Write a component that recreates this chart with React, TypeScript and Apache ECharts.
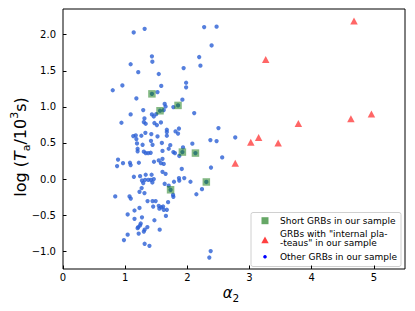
import React, { useEffect, useRef } from 'react';
import * as echarts from 'echarts';

// "Other GRBs in our sample"
const otherAlpha2 = [
  1.137, 1.313, 2.27, 2.47, 2.39, 1.43, 1.437, 2.19, 2.21, 1.088, 1.21, 1.54, 1.94, 1.98, 1.98, 0.8, 0.955,
  1.58, 1.52, 1.18, 1.92, 1.635, 1.65, 1.775, 2.11, 1.62, 1.29, 1.088, 1.43, 1.46, 1.5, 1.31, 0.94, 1.3, 1.33,
  1.47, 1.51, 1.575, 2.5, 1.67, 1.67, 1.865, 1.81, 1.85, 1.325, 1.42, 1.13, 1.17, 1.26, 1.52, 1.67, 1.18, 2.77,
  2.37, 2.47, 1.415, 1.44, 1.59, 1.19, 1.28, 1.725, 2.08, 1.93, 1.2, 1.7, 1.2, 1.3, 1.33, 1.37, 1.41, 1.6,
  1.775, 1.8, 1.87, 2.56, 0.885, 0.87, 0.965, 1.077, 1.088, 1.22, 1.463, 1.54, 1.575, 1.62, 1.6, 2.38, 1.6,
  1.65, 1.14, 1.24, 1.33, 1.425, 1.27, 1.32, 1.29, 1.373, 1.415, 1.46, 1.437, 1.635, 1.785, 1.865, 1.87, 1.95,
  2.05, 2.235, 2.145, 1.7, 1.23, 1.31, 1.265, 0.84, 1.07, 1.09, 1.77, 1.775, 1.36, 1.44, 1.49, 1.69, 1.45, 1.54,
  1.55, 1.58, 1.61, 1.62, 1.67, 1.23, 1.15, 1.04, 1.655, 1.27, 1.15, 1.47, 1.25, 1.24, 1.21, 1.2, 1.357, 1.313,
  1.3, 1.555, 1.217, 1.04, 0.98, 1.313, 1.39, 2.375, 2.353, 1.91
];
const otherLogTa = [
  2.03, 2.08, 2.105, 2.11, 1.85, 1.7, 1.625, 1.69, 1.57, 1.59, 1.48, 1.455, 1.537, 1.334, 1.27, 1.23, 1.296,
  1.29, 1.205, 1.116, 1.1, 1.04, 1.005, 0.997, 0.914, 0.955, 0.955, 0.895, 0.895, 0.867, 0.9, 0.84, 0.78, 0.79,
  0.766, 0.776, 0.748, 0.784, 0.706, 0.683, 0.651, 0.7, 0.66, 0.63, 0.64, 0.623, 0.595, 0.604, 0.6, 0.59, 0.6,
  0.554, 0.576, 0.54, 0.526, 0.53, 0.475, 0.5, 0.493, 0.475, 0.47, 0.49, 0.438, 0.42, 0.42, 0.385, 0.38, 0.36,
  0.36, 0.364, 0.39, 0.374, 0.36, 0.32, 0.3, 0.27, 0.18, 0.22, 0.226, 0.194, 0.226, 0.24, 0.258, 0.22, 0.21,
  0.28, 0.16, 0.1, 0.073, 0.032, 0.04, 0.06, 0.06, -0.02, -0.01, -0.055, -0.01, -0.01, 0.0, -0.047, -0.065,
  -0.037, 0.014, -0.02, 0.014, -0.037, -0.14, -0.21, -0.09, -0.176, -0.194, -0.125, -0.24, -0.24, -0.27, -0.22,
  -0.245, -0.305, -0.305, -0.305, -0.32, -0.38, -0.37, -0.41, -0.39, -0.38, -0.425, -0.425, -0.4, -0.435, -0.49,
  -0.51, -0.53, -0.55, -0.57, -0.615, -0.64, -0.665, -0.68, -0.665, -0.7, -0.726, -0.7, -0.755, -0.77, -0.845,
  -0.896, -0.924, -0.997, -1.086, 0.14
];

// "Short GRBs in our sample"
const shortAlpha2 = [1.43, 1.56, 1.85, 1.92, 2.13, 2.305, 1.73];
const shortLogTa = [1.18, 0.946, 1.02, 0.374, 0.36, -0.04, -0.148];

// "GRBs with internal plateaus in our sample"
const plateauAlpha2 = [4.68, 3.26, 3.785, 4.63, 4.96, 3.146, 3.02, 3.46, 2.77];
const plateauLogTa = [2.19, 1.657, 0.77, 0.835, 0.9, 0.576, 0.51, 0.5, 0.22];

const xTicks = [0, 1, 2, 3, 4, 5];
const yTicks = [-1, -0.5, 0, 0.5, 1, 1.5, 2];

const legendLabels = [
  'Short GRBs in our sample',
  'GRBs with "internal pla-',
  '-teaus" in our sample',
  'Other GRBs in our sample',
];

const FONT = 'DejaVu Sans';
const BLUE = '#2a5fd4';
const GREEN = 'rgba(20,120,20,0.65)';
const RED = 'rgba(255,0,0,0.75)';
const LEGEND_FONT = '9px "DejaVu Sans"';

const zip = (a: number[], b: number[]) => a.map((v, i) => [v, b[i]]);

export default function App() {
  const ref = useRef<HTMLDivElement>(null);
  useEffect(() => {
    if (!ref.current) return;
    const chart = echarts.init(ref.current, undefined, { renderer: 'svg' });
    const fmtY = (v: number) => (v < 0 ? '\u2212' + Math.abs(v).toFixed(1) : v.toFixed(1));
    const option: any = {
      animation: false,
      grid: {
        left: 63, right: 10, top: 9, bottom: 42,
        show: true, borderColor: '#000', borderWidth: 1, backgroundColor: 'transparent',
      },
      xAxis: {
        type: 'value', min: 0, max: 5.5,
        axisLine: { show: false, onZero: false }, splitLine: { show: false },
        axisTick: { show: true, inside: true, length: 3.5, customValues: xTicks, lineStyle: { color: '#000' } },
        axisLabel: {
          customValues: xTicks, color: '#000', fontSize: 10, fontFamily: FONT, margin: 3,
          formatter: (v: number) => String(v),
        },
      },
      yAxis: {
        type: 'value', min: -1.245, max: 2.355,
        axisLine: { show: false, onZero: false }, splitLine: { show: false },
        axisTick: { show: true, inside: true, length: 3.5, customValues: yTicks, lineStyle: { color: '#000' } },
        axisLabel: {
          customValues: yTicks, color: '#000', fontSize: 10, fontFamily: FONT, margin: 7,
          formatter: fmtY,
        },
      },
      series: [
        {
          type: 'scatter', data: zip(otherAlpha2, otherLogTa), symbol: 'circle', symbolSize: 4.3,
          itemStyle: { color: BLUE }, z: 2,
        },
        {
          type: 'scatter', data: zip(shortAlpha2, shortLogTa), symbol: 'circle', symbolSize: 4.3,
          itemStyle: { color: BLUE }, z: 2,
        },
        {
          type: 'scatter', data: zip(shortAlpha2, shortLogTa), symbol: 'rect', symbolSize: 7.5,
          itemStyle: { color: GREEN }, z: 3,
        },
        {
          type: 'scatter', data: zip(plateauAlpha2, plateauLogTa), symbol: 'triangle', symbolSize: [7.5, 7],
          itemStyle: { color: RED }, z: 4,
        },
      ],
      graphic: [
        {
          type: 'text', x: 231, y: 293, z: 10,
          style: {
            text: '{i|α}{s|2}', align: 'center', verticalAlign: 'middle',
            rich: {
              i: { fontStyle: 'italic', fontSize: 15, fontFamily: FONT, fill: '#000', lineHeight: 20, verticalAlign: 'middle' },
              s: { fontSize: 10.5, fontFamily: FONT, fill: '#000', lineHeight: 20, verticalAlign: 'bottom' },
            },
          },
        },
        {
          type: 'text', x: 20, y: 147, rotation: Math.PI / 2, z: 10,
          style: {
            text: '{n|log (}{i|T}{s|a}{n|/10}{p|3}{n|s)}', align: 'center', verticalAlign: 'middle',
            rich: {
              n: { fontSize: 16, fontFamily: FONT, fill: '#000', lineHeight: 23, verticalAlign: 'middle' },
              i: { fontSize: 16, fontStyle: 'italic', fontFamily: FONT, fill: '#000', lineHeight: 23, verticalAlign: 'middle' },
              s: { fontSize: 11, fontFamily: FONT, fill: '#000', lineHeight: 23, verticalAlign: 'bottom' },
              p: { fontSize: 11, fontFamily: FONT, fill: '#000', lineHeight: 23, verticalAlign: 'top' },
            },
          },
        },
        {
          type: 'group', z: 20,
          children: [
            {
              type: 'rect', shape: { x: 251, y: 212.5, width: 150, height: 54, r: 2 },
              style: { fill: 'rgba(255,255,255,0.8)', stroke: '#d0d0d0', lineWidth: 1 },
            },
            {
              type: 'rect', shape: { x: 261.5, y: 217.2, width: 7, height: 7 },
              style: { fill: GREEN },
            },
            {
              type: 'polygon', shape: { points: [[265, 236.5], [261.3, 243.3], [268.7, 243.3]] },
              style: { fill: RED },
            },
            {
              type: 'circle', shape: { cx: 265, cy: 256.7, r: 1.8 },
              style: { fill: '#0000ff' },
            },
            { type: 'text', x: 280, y: 220.7, style: { text: legendLabels[0], font: LEGEND_FONT, fill: '#000', verticalAlign: 'middle' } },
            { type: 'text', x: 280, y: 233.9, style: { text: legendLabels[1], font: LEGEND_FONT, fill: '#000', verticalAlign: 'middle' } },
            { type: 'text', x: 280, y: 243.2, style: { text: legendLabels[2], font: LEGEND_FONT, fill: '#000', verticalAlign: 'middle' } },
            { type: 'text', x: 280, y: 256.7, style: { text: legendLabels[3], font: LEGEND_FONT, fill: '#000', verticalAlign: 'middle' } },
          ],
        },
      ],
    };
    chart.setOption(option);
    return () => chart.dispose();
  }, []);
  return (
    <div
      ref={ref}
      style={{ position: 'fixed', left: 0, top: 0, width: 415, height: 311, background: '#fff' }}
    />
  );
}
